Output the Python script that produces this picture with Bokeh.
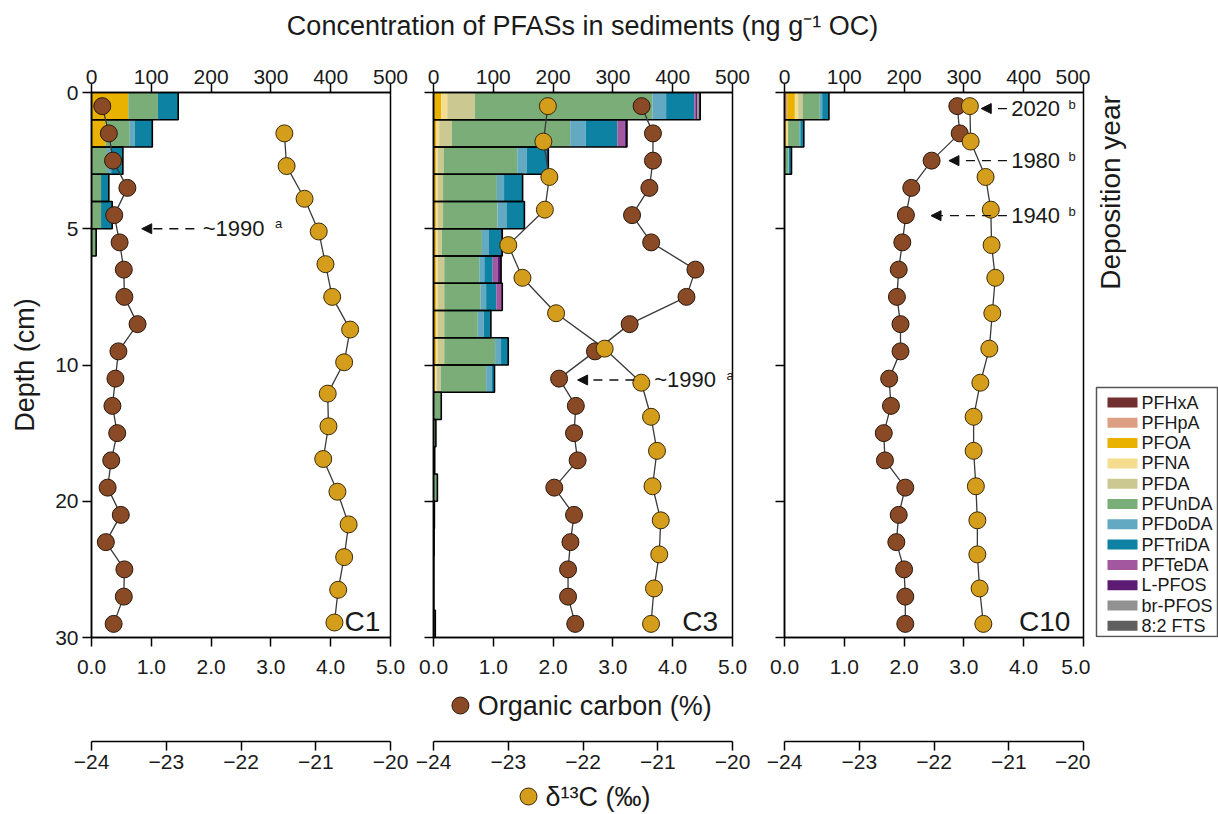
import numpy as np
from bokeh.plotting import figure
from bokeh.models import (Range1d, LinearAxis, FixedTicker, Label, Arrow, NormalHead,
                          ColumnDataSource, PrintfTickFormatter)
from bokeh.core.properties import value
from bokeh.layouts import row, column
from bokeh.embed import file_html
from bokeh.resources import INLINE

FONT = "Liberation Sans"
BROWN = "#8a4a26"
GOLD = "#d49e1c"
TXT = "#1a1a1a"

# ------------------------------------------------------------------ data
species = ["PFHxA", "PFHpA", "PFOA", "PFNA", "PFDA", "PFUnDA", "PFDoDA",
           "PFTriDA", "PFTeDA", "L-PFOS", "br-PFOS", "8:2 FTS"]
species_colors = ["#722f2f", "#dc9f84", "#e9b100", "#f5dd8f", "#cbc991", "#7aad78",
                  "#64a9c2", "#0d82a3", "#a3579f", "#5c1a72", "#919191", "#5f5f5f"]

# depth of OC samples (cm), shared by the three cores
oc_depth = [0.5, 1.5, 2.5, 3.5, 4.5, 5.5, 6.5, 7.5, 8.5, 9.5,
            11, 13, 15, 17, 19, 21, 23, 25, 27, 29]

# ---- C1
c1_bar_top = [0, 1, 2, 3, 4, 5]
c1_bar_bottom = [1, 2, 3, 4, 5, 6]
c1_bars = {
    "PFHxA":   [0, 0, 0, 0, 0, 0],
    "PFHpA":   [0, 0, 0, 0, 0, 0],
    "PFOA":    [61.5, 23.5, 0, 0, 0, 0],
    "PFNA":    [0, 0, 0, 0, 0, 0],
    "PFDA":    [0, 0, 0, 0, 0, 0],
    "PFUnDA":  [49.5, 40.5, 26, 16, 16, 7.8],
    "PFDoDA":  [0, 8, 7, 0, 0, 0],
    "PFTriDA": [34, 29.7, 19.5, 13, 18.6, 0],
    "PFTeDA":  [0, 0, 0, 0, 0, 0],
    "L-PFOS":  [0, 0, 0, 0, 0, 0],
    "br-PFOS": [0, 0, 0, 0, 0, 0],
    "8:2 FTS": [0, 0, 0, 0, 0, 0],
}
c1_oc = [0.18, 0.29, 0.36, 0.60, 0.38, 0.47, 0.54, 0.55, 0.77, 0.45,
         0.40, 0.35, 0.43, 0.33, 0.27, 0.49, 0.24, 0.55, 0.54, 0.37]
c1_d13_depth = [1.5, 2.7, 3.9, 5.1, 6.3, 7.5, 8.7, 9.9,
                12.1, 14.5, 16.9, 19.3, 21.7, 24.1, 26.5, 28.9]
c1_d13 = [-21.42, -21.39, -21.15, -20.96, -20.87, -20.78, -20.54, -20.62,
          -20.84, -20.83, -20.90, -20.71, -20.56, -20.62, -20.70, -20.75]

# ---- C3
c3_bar_top = [0, 1, 2, 3, 4, 5, 6, 7, 8, 9, 10, 12, 14, 16, 18, 20, 22, 24, 26, 28]
c3_bar_bottom = [1, 2, 3, 4, 5, 6, 7, 8, 9, 10, 12, 14, 16, 18, 20, 22, 24, 26, 28, 30]
c3_bars = {
    "PFHxA":   [0, 0, 0, 0, 0, 0, 0, 0, 0, 0, 0, 0, 0, 0, 0, 0, 0, 0, 0, 0],
    "PFHpA":   [0, 0, 0, 0, 0, 0, 0, 0, 0, 0, 0, 0, 0, 0, 0, 0, 0, 0, 0, 0],
    "PFOA":    [13, 5, 4, 4, 4, 4, 4, 4, 4, 4, 3, 0, 0, 0, 0, 0, 0, 0, 0, 0],
    "PFNA":    [10, 4.5, 3, 3, 3, 3, 3, 3, 3, 3, 2, 0, 0, 0, 0, 0, 0, 0, 0, 0],
    "PFDA":    [46, 21, 10, 9, 9, 7, 11, 11, 11, 11, 7, 0, 0, 0, 0, 0, 0, 0, 0, 0],
    "PFUnDA":  [297, 198, 123, 90, 91, 67, 58.5, 61, 56, 85, 76, 13, 4, 2, 6.5, 1.5, 1, 0.5, 0.5, 3],
    "PFDoDA":  [23, 26, 16, 12, 15, 11, 8.5, 9, 10, 10, 9, 0, 0, 0, 0, 0, 0, 0, 0, 0],
    "PFTriDA": [47, 53, 34, 30, 30, 21, 14, 17, 12, 12, 5, 0, 0, 0, 0, 0, 0, 0, 0, 0],
    "PFTeDA":  [3, 12, 0, 0, 0, 0, 8.5, 10, 0, 0, 0, 0, 0, 0, 0, 0, 0, 0, 0, 0],
    "L-PFOS":  [2, 4, 2, 1, 0, 2, 5.5, 0, 0, 0, 0, 0, 0, 0, 0, 0, 0, 0, 0, 0],
    "br-PFOS": [3, 0, 0, 0, 0, 0, 0, 0, 0, 0, 0, 0, 0, 0, 0, 0, 0, 0, 0, 0],
    "8:2 FTS": [2, 0, 0, 0, 0, 0, 0, 0, 0, 0, 0, 0, 0, 0, 0, 0, 0, 0, 0, 0],
}
c3_oc = [3.48, 3.67, 3.67, 3.61, 3.32, 3.64, 4.38, 4.23, 3.28, 2.70,
         2.10, 2.38, 2.35, 2.41, 2.02, 2.35, 2.29, 2.25, 2.25, 2.37]
c3_d13_depth = [0.5, 1.8, 3.1, 4.3, 5.6, 6.8, 8.1, 9.4,
                11.3, 13.8, 16.3, 18.9, 21.4, 23.9, 26.4, 29.0]
c3_d13 = [-22.47, -22.53, -22.45, -22.51, -23.00, -22.81, -22.36, -21.71,
          -21.22, -21.09, -21.01, -21.07, -20.96, -20.98, -21.05, -21.09]

# ---- C10
c10_bar_top = [0, 1, 2]
c10_bar_bottom = [1, 2, 3]
c10_bars = {
    "PFHxA":   [0, 0, 0],
    "PFHpA":   [4.4, 0, 0],
    "PFOA":    [12.9, 3.3, 0],
    "PFNA":    [5.5, 2.7, 0],
    "PFDA":    [7.4, 0, 0],
    "PFUnDA":  [28.8, 18.5, 6.5],
    "PFDoDA":  [4, 2, 1],
    "PFTriDA": [11.3, 5.8, 4.2],
    "PFTeDA":  [0, 0, 0],
    "L-PFOS":  [0, 0, 0],
    "br-PFOS": [0, 0, 0],
    "8:2 FTS": [0, 0, 0],
}
c10_oc = [2.89, 2.93, 2.46, 2.12, 2.03, 1.97, 1.91, 1.88, 1.94, 1.94,
          1.75, 1.78, 1.66, 1.68, 2.02, 1.91, 1.87, 2.00, 2.02, 2.02]
c10_d13_depth = [0.5, 1.8, 3.1, 4.3, 5.6, 6.8, 8.1, 9.4,
                 11.3, 13.8, 16.3, 18.9, 21.4, 23.9, 26.4, 29.0]
c10_d13 = [-21.52, -21.51, -21.31, -21.24, -21.23, -21.18, -21.22, -21.26,
           -21.38, -21.47, -21.47, -21.44, -21.42, -21.42, -21.39, -21.34]

conc_ticks = [0, 100, 200, 300, 400, 500]
oc_ticks = [0, 1, 2, 3, 4, 5]
d13_ticks = [-24, -23, -22, -21, -20]
depth_ticks_cm = [0, 5, 10, 20, 30]
depth_tick_labels = ["0", "5", "10", "20", "30"]

# ------------------------------------------------------------------ layout constants
FW, FH = 299, 545          # frame size of each core panel
TOP_H = 44                 # title strip
TOP_B, BOT_B = 48, 46      # borders of the core panels
MID_H, MID_B = 58, 38      # strip with organic-carbon key and d13C axes
KEY_H = 33                 # bottom strip with d13C key
PAD = [(91, 21), (22, 25), (27, 7)]   # (left, right) borders of the three panels
SIDE_W = 128               # right strip: deposition-year title + legend
TICK_PX = "21px"
# legend box inside the right strip (frame pixels, y downwards)
LEG_BOX = (6, 127, 295, 544)   # left, right, top, bottom
LEG_ROW0, LEG_PITCH = 310, 20.3
LEG_SW = (17, 47, 10)          # swatch left, right, height
LEG_TX = 51


def to_axis(d):
    """depth axis is stretched x2 above 10 cm"""
    d = np.asarray(d, dtype=float)
    return np.where(d <= 10, d, 10 + (d - 10) / 2.0)


def style_axis(ax):
    ax.axis_line_color = "black"
    ax.axis_line_width = 1.5
    ax.major_tick_line_color = "black"
    ax.major_tick_line_width = 1.5
    ax.major_tick_in = 0
    ax.major_tick_out = 9
    ax.minor_tick_line_color = None
    ax.major_label_text_font = FONT
    ax.major_label_text_font_size = TICK_PX
    ax.major_label_text_color = TXT
    ax.axis_label_text_font = FONT
    ax.axis_label_text_font_size = "27px"
    ax.axis_label_text_font_style = "normal"
    ax.axis_label_text_color = TXT


def blank_fig(w, h, xr, yr, **kw):
    f = figure(frame_width=w, frame_height=h, x_range=xr, y_range=yr,
               x_axis_location=None, y_axis_location=None,
               output_backend="svg", toolbar_location=None,
               background_fill_color="white", border_fill_color="white",
               outline_line_color=None, **kw)
    f.grid.visible = False
    return f


def text(p, x, y, s, size="22px", align="left", baseline="middle", angle=0.0):
    p.add_layout(Label(x=x, y=y, text=s, text_font=FONT, text_font_size=size,
                       text_align=align, text_baseline=baseline, text_color=TXT,
                       angle=angle))


def arrow(p, x0, x1, y):
    p.add_layout(Arrow(x_start=x0, y_start=y, x_end=x1, y_end=y,
                       line_color="#111111", line_width=1.3, line_dash="9 7",
                       end=NormalHead(size=10, fill_color="#111111", line_color="#111111")))


def panel(bar_top, bar_bottom, bars, oc, d13_depth, d13, ml, mr, first=False):
    p = figure(frame_width=FW, frame_height=FH,
               x_range=Range1d(0, 5), y_range=Range1d(20, 0),
               x_axis_location=None, y_axis_location=None,
               output_backend="svg", toolbar_location=None,
               min_border_left=ml, min_border_right=mr,
               min_border_top=TOP_B, min_border_bottom=BOT_B,
               background_fill_color="white", border_fill_color="white",
               outline_line_color="black", outline_line_width=1.5)
    p.extra_x_ranges = {"conc": Range1d(0, 500), "d13c": Range1d(-24, -20)}
    p.grid.visible = False

    top = LinearAxis(x_range_name="conc", ticker=FixedTicker(ticks=conc_ticks))
    style_axis(top)
    top.major_label_standoff = 0
    p.add_layout(top, "above")

    ocax = LinearAxis(ticker=FixedTicker(ticks=oc_ticks),
                      formatter=PrintfTickFormatter(format="%.1f"))
    style_axis(ocax)
    ocax.major_label_standoff = 13
    p.add_layout(ocax, "below")

    yt = [float(v) for v in to_axis(depth_ticks_cm)]
    lax = LinearAxis(ticker=FixedTicker(ticks=yt),
                     major_label_overrides={v: s for v, s in zip(yt, depth_tick_labels)})
    style_axis(lax)
    lax.major_label_standoff = 4
    if first:
        lax.axis_label = "Depth (cm)"
        lax.axis_label_standoff = 12
    else:
        lax.major_label_text_font_size = "0px"
        lax.major_label_text_color = None
    p.add_layout(lax, "left")

    # stacked concentration bars
    y0 = to_axis(bar_top)
    y1 = to_axis(bar_bottom)
    data = {"y": (y0 + y1) / 2.0, "h": y1 - y0}
    total = np.zeros(len(bar_top))
    for sp in species:
        data[sp] = bars[sp]
        total = total + np.asarray(bars[sp], dtype=float)
    data["total"] = total
    src = ColumnDataSource(data)
    p.hbar_stack(species, y="y", height="h", source=src, x_range_name="conc",
                 fill_color=species_colors, line_color=None)
    p.hbar(y="y", height="h", left=0, right="total", source=src, x_range_name="conc",
           fill_color=None, line_color="black", line_width=1.6)

    # OC and d13C profiles
    oc_y = to_axis(oc_depth)
    d_y = to_axis(d13_depth)
    p.line(oc, oc_y, line_color="#3a3a3a", line_width=1.3)
    p.line(d13, d_y, x_range_name="d13c", line_color="#3a3a3a", line_width=1.3)
    p.scatter(oc, oc_y, size=17, fill_color=BROWN, line_color="#2a180c", line_width=1)
    p.scatter(d13, d_y, x_range_name="d13c", size=17, fill_color=GOLD,
              line_color="#3a2a06", line_width=1)
    return p


# ------------------------------------------------------------------ core panels
p1 = panel(c1_bar_top, c1_bar_bottom, c1_bars, c1_oc, c1_d13_depth, c1_d13, *PAD[0], first=True)
p2 = panel(c3_bar_top, c3_bar_bottom, c3_bars, c3_oc, c3_d13_depth, c3_d13, *PAD[1])
p3 = panel(c10_bar_top, c10_bar_bottom, c10_bars, c10_oc, c10_d13_depth, c10_d13, *PAD[2])

text(p1, 4.83, 19.4, "C1", size="28px", align="right", baseline="alphabetic")
text(p2, 4.76, 19.4, "C3", size="28px", align="right", baseline="alphabetic")
text(p3, 4.78, 19.4, "C10", size="28px", align="right", baseline="alphabetic")

arrow(p1, 1.72, 0.84, 5.0)
text(p1, 1.86, 5.0, "~1990")
text(p1, 3.07, 4.82, "a", size="13px")

arrow(p2, 3.36, 2.41, 10.55)
text(p2, 3.69, 10.55, "~1990")
text(p2, 4.90, 10.37, "a", size="13px")

arrow(p3, 3.72, 3.29, 0.59)
arrow(p3, 3.72, 2.75, 2.50)
arrow(p3, 3.72, 2.45, 4.52)
text(p3, 3.79, 0.59, "2020")
text(p3, 3.79, 2.50, "1980")
text(p3, 3.79, 4.52, "1940")
text(p3, 4.75, 0.43, "b", size="13px")
text(p3, 4.75, 2.34, "b", size="13px")
text(p3, 4.75, 4.36, "b", size="13px")

# ------------------------------------------------------------------ right strip (same frame as panels)
p4 = blank_fig(SIDE_W, FH, Range1d(0, SIDE_W), Range1d(FH, 0),
               min_border_left=0, min_border_right=0,
               min_border_top=TOP_B, min_border_bottom=BOT_B)
text(p4, 20, 100, "Deposition year", size="28px", align="center", angle=np.pi / 2)
bl, br, bt, bb = LEG_BOX
p4.quad(left=[bl], right=[br], top=[bt], bottom=[bb], fill_color="white",
        line_color="#555555", line_width=1.5)
leg_y = [LEG_ROW0 + LEG_PITCH * i for i in range(len(species))]
sl, sr, sh = LEG_SW
p4.quad(left=sl, right=sr, top=[y - sh / 2 for y in leg_y], bottom=[y + sh / 2 for y in leg_y],
        fill_color=species_colors, line_color=None)
p4.text(x=LEG_TX, y=leg_y, text=species, text_font=value(FONT), text_font_size="18px",
        text_color=TXT, text_baseline="middle", text_align="left")

# ------------------------------------------------------------------ title strip
t = blank_fig(1218, TOP_H, Range1d(0, 1218), Range1d(TOP_H, 0), min_border=0)
text(t, 582, 25, "Concentration of PFASs in sediments (ng g\u207b\u00b9 OC)", size="27px",
     align="center")


# ------------------------------------------------------------------ d13C axes strip
def mid_fig(ml, mr, key=False):
    q = blank_fig(FW, MID_H, Range1d(0, 5), Range1d(MID_H, 0),
                  min_border_left=ml, min_border_right=mr,
                  min_border_top=0, min_border_bottom=MID_B)
    q.extra_x_ranges = {"d13c": Range1d(-24, -20)}
    dax = LinearAxis(x_range_name="d13c", ticker=FixedTicker(ticks=d13_ticks),
                     major_label_overrides={v: "\u2212" + str(abs(v)) for v in d13_ticks})
    style_axis(dax)
    dax.major_label_standoff = 4
    q.add_layout(dax, "below")
    if key:
        q.scatter([0.45], [22], size=17, fill_color=BROWN, line_color="#2a180c", line_width=1)
        text(q, 0.74, 22, "Organic carbon (%)", size="27px")
    return q


m1 = mid_fig(*PAD[0])
m2 = mid_fig(*PAD[1], key=True)
m3 = mid_fig(*PAD[2])

# ------------------------------------------------------------------ d13C key strip
k = blank_fig(1218, KEY_H, Range1d(0, 1218), Range1d(KEY_H, 0), min_border=0)
k.scatter([528], [17], size=17, fill_color=GOLD, line_color="#3a2a06", line_width=1)
text(k, 545, 17, "\u03b4\u00b9\u00b3C (\u2030)", size="27px")

layout = column(t, row(p1, p2, p3, p4), row(m1, m2, m3), k)
open("out.html", "w").write(file_html(layout, INLINE))
